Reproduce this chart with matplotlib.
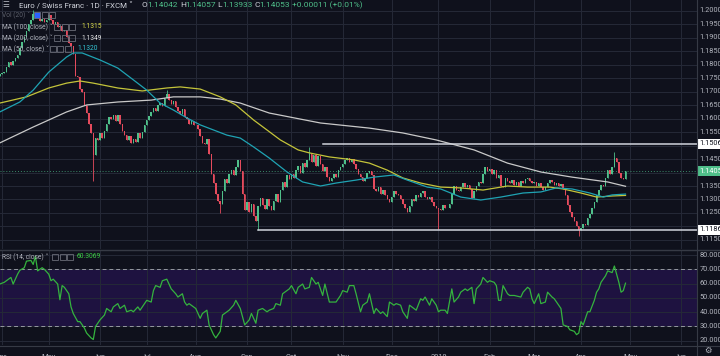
import numpy as np
import pandas as pd
import matplotlib
matplotlib.use("Agg")
import matplotlib.pyplot as plt
import matplotlib.transforms as mtransforms
from matplotlib.patches import Rectangle

plt.rcParams['font.family'] = ['Roboto', 'DejaVu Sans']

# ============================================================
# DATOS  (EUR/CHF diario, FXCM)
# ============================================================

fechas = pd.bdate_range("2018-03-30", "2019-04-29")          # una vela por día hábil
fechas_eje = pd.bdate_range("2018-03-30", "2019-06-28")      # incluye espacio a la derecha

apertura_inicial = 1.1760

c_mar18 = [1.1765]
c_abr18 = [1.1768, 1.1775, 1.1792, 1.1810, 1.1800, 1.1815, 1.1825, 1.1838, 1.1862, 1.1885, 1.1902,
           1.1925, 1.1950, 1.1968, 1.1990, 1.1975, 1.1980, 1.1962, 1.1970, 1.1960, 1.1968]
c_may18 = [1.1985, 1.1965, 1.1950, 1.1958, 1.1940, 1.1945, 1.1925, 1.1930, 1.1905, 1.1880, 1.1870,
           1.1840, 1.1760, 1.1755, 1.1710, 1.1700, 1.1650, 1.1620, 1.1580, 1.1545, 1.1465, 1.1530, 1.1520]
c_jun18 = [1.1545, 1.1530, 1.1555, 1.1580, 1.1605, 1.1598, 1.1615, 1.1590, 1.1612, 1.1580, 1.1555,
           1.1540, 1.1520, 1.1535, 1.1508, 1.1525, 1.1515, 1.1545, 1.1530, 1.1550, 1.1575]
c_jul18 = [1.1595, 1.1610, 1.1625, 1.1640, 1.1630, 1.1650, 1.1660, 1.1648, 1.1675, 1.1690, 1.1670,
           1.1655, 1.1665, 1.1642, 1.1630, 1.1618, 1.1635, 1.1605, 1.1600, 1.1580, 1.1590, 1.1575]
c_ago18 = [1.1578, 1.1560, 1.1535, 1.1510, 1.1505, 1.1525, 1.1470, 1.1395, 1.1360, 1.1320, 1.1295,
           1.1285, 1.1330, 1.1375, 1.1360, 1.1395, 1.1410, 1.1390, 1.1420, 1.1445, 1.1405, 1.1320, 1.1260]
c_sep18 = [1.1290, 1.1255, 1.1285, 1.1240, 1.1220, 1.1275, 1.1305, 1.1280, 1.1265, 1.1300, 1.1275,
           1.1260, 1.1295, 1.1320, 1.1290, 1.1335, 1.1365, 1.1345, 1.1390, 1.1375]
c_oct18 = [1.1395, 1.1380, 1.1410, 1.1425, 1.1400, 1.1435, 1.1420, 1.1445, 1.1470, 1.1440, 1.1465,
           1.1425, 1.1460, 1.1430, 1.1405, 1.1420, 1.1385, 1.1370, 1.1380, 1.1395, 1.1385, 1.1410, 1.1420]
c_nov18 = [1.1430, 1.1445, 1.1455, 1.1440, 1.1450, 1.1430, 1.1415, 1.1395, 1.1385, 1.1370, 1.1380,
           1.1398, 1.1405, 1.1390, 1.1340, 1.1330, 1.1345, 1.1320, 1.1335, 1.1315, 1.1300, 1.1290]
c_dic18 = [1.1310, 1.1330, 1.1322, 1.1315, 1.1300, 1.1285, 1.1270, 1.1255, 1.1275, 1.1300, 1.1295,
           1.1315, 1.1308, 1.1325, 1.1330, 1.1310, 1.1300, 1.1310, 1.1290, 1.1275, 1.1270]
c_ene19 = [1.1265, 1.1262, 1.1280, 1.1270, 1.1268, 1.1285, 1.1320, 1.1350, 1.1335, 1.1330, 1.1345,
           1.1360, 1.1348, 1.1355, 1.1340, 1.1305, 1.1330, 1.1350, 1.1365, 1.1360, 1.1395, 1.1420, 1.1405]
c_feb19 = [1.1415, 1.1395, 1.1410, 1.1380, 1.1390, 1.1350, 1.1345, 1.1380, 1.1370, 1.1360, 1.1372,
           1.1355, 1.1365, 1.1350, 1.1368, 1.1360, 1.1375, 1.1380, 1.1370, 1.1362]
c_mar19 = [1.1365, 1.1350, 1.1360, 1.1345, 1.1335, 1.1345, 1.1360, 1.1372, 1.1365, 1.1355, 1.1362,
           1.1350, 1.1358, 1.1340, 1.1315, 1.1280, 1.1255, 1.1235, 1.1220, 1.1200, 1.1185]
c_abr19 = [1.1195, 1.1210, 1.1205, 1.1230, 1.1245, 1.1270, 1.1290, 1.1315, 1.1335, 1.1355, 1.1350,
           1.1380, 1.1410, 1.1395, 1.1420, 1.1455, 1.1440, 1.1400, 1.1380, 1.1375, 1.1405]

# mechas largas visibles (barra: precio)
mecha_alta = {15: 1.2005, 75: 1.1705, 139: 1.1493, 276: 1.1475}
mecha_baja = {42: 1.1370, 99: 1.1248, 116: 1.1187, 197: 1.1192, 260: 1.1165}

# medias móviles (barra, precio)
ma50_barra = [0, 9, 15, 22, 30, 33, 37, 45, 53, 60, 66, 72, 78, 84, 90, 96, 102, 108, 114, 121, 129,
              136, 144, 151, 160, 168, 177, 183, 192, 198, 207, 216, 225, 235, 243, 250, 257, 265, 271, 275, 281]
ma50_valor = [1.1625, 1.1662, 1.1706, 1.1773, 1.1829, 1.1844, 1.1844, 1.1818, 1.1788, 1.1744, 1.1706,
              1.1658, 1.1632, 1.1603, 1.1577, 1.1558, 1.1539, 1.1528, 1.1495, 1.1454, 1.1402, 1.1365,
              1.1350, 1.1361, 1.1372, 1.1383, 1.1391, 1.1372, 1.1346, 1.1339, 1.1309, 1.1298, 1.1309,
              1.1324, 1.1328, 1.1343, 1.1339, 1.1324, 1.1309, 1.1317, 1.1320]

ma100_barra = [0, 12, 22, 30, 36, 42, 53, 64, 75, 81, 90, 99, 106, 114, 126, 134, 139, 148, 159, 166,
               174, 181, 189, 198, 207, 217, 228, 237, 247, 253, 261, 268, 275, 281]
ma100_valor = [1.1658, 1.1681, 1.1714, 1.1732, 1.1740, 1.1732, 1.1714, 1.1703, 1.1714, 1.1718, 1.1710,
               1.1681, 1.1651, 1.1595, 1.1521, 1.1484, 1.1473, 1.1458, 1.1447, 1.1435, 1.1409, 1.1380,
               1.1361, 1.1346, 1.1343, 1.1335, 1.1350, 1.1346, 1.1346, 1.1339, 1.1324, 1.1309, 1.1313, 1.1315]

ma200_barra = [0, 15, 30, 39, 53, 68, 78, 90, 99, 108, 121, 144, 166, 181, 196, 213, 228, 243, 257, 273, 281]
ma200_valor = [1.1510, 1.1569, 1.1625, 1.1651, 1.1662, 1.1669, 1.1681, 1.1681, 1.1673, 1.1658, 1.1621,
               1.1584, 1.1565, 1.1547, 1.1521, 1.1484, 1.1435, 1.1402, 1.1383, 1.1365, 1.1349]

# RSI(14) (barra, valor)
rsi_barra = [0, 2, 5, 6, 8, 9, 11, 12, 14, 15, 16, 17, 19, 20, 22, 23, 24, 26, 27, 28, 29, 31, 32, 33, 35,
             36, 38, 39, 41, 42, 43, 44, 45, 47, 48, 50, 51, 53, 54, 56, 57, 59, 60, 62, 63, 65, 66, 68, 69,
             70, 72, 73, 75, 76, 77, 79, 80, 82, 83, 84, 85, 87, 88, 90, 91, 93, 94, 96, 97, 99, 100, 102,
             103, 105, 106, 108, 110, 112, 113, 115, 116, 118, 120, 121, 123, 124, 126, 127, 130, 131, 133,
             134, 136, 137, 139, 140, 142, 143, 145, 146, 148, 151, 153, 154, 156, 157, 159, 160, 162, 163,
             165, 166, 168, 169, 171, 172, 174, 175, 177, 178, 180, 181, 183, 184, 186, 187, 189, 190, 191,
             193, 194, 196, 197, 198, 200, 201, 203, 204, 206, 207, 209, 210, 212, 213, 214, 216, 217, 219,
             220, 222, 223, 224, 225, 226, 228, 229, 231, 234, 235, 237, 238, 239, 240, 242, 243, 245, 246,
             248, 249, 252, 253, 255, 256, 258, 259, 260, 261, 262, 264, 265, 267, 268, 269, 270, 272, 273,
             275, 276, 278, 279, 280, 281]
rsi_valor = [59.7, 60.9, 64.3, 59.7, 66.6, 69.3, 71.1, 75.7, 76.2, 73.4, 79.1, 68.9, 71.1, 70.0, 66.6,
             62.0, 63.1, 59.7, 48.7, 58.6, 57.4, 52.9, 43.7, 39.1, 33.4, 33.4, 28.9, 25.4, 22.0, 20.9,
             30.0, 32.3, 34.6, 38.0, 42.6, 40.3, 43.7, 46.0, 42.6, 44.9, 40.3, 41.4, 40.3, 43.7, 41.4,
             46.0, 48.3, 47.1, 55.1, 58.6, 57.4, 62.0, 63.1, 59.7, 56.3, 52.9, 50.6, 52.9, 47.1, 44.9,
             46.0, 43.7, 42.6, 35.7, 39.1, 41.4, 31.1, 24.3, 22.0, 26.6, 38.0, 40.3, 41.4, 44.9, 48.3,
             42.6, 31.1, 34.6, 39.1, 32.3, 41.4, 42.6, 40.3, 41.4, 42.6, 46.0, 44.9, 52.9, 56.3, 58.6,
             52.9, 57.4, 59.7, 56.3, 57.4, 64.3, 59.7, 60.9, 51.7, 59.7, 47.1, 47.1, 51.7, 55.1, 54.0,
             58.6, 58.6, 52.9, 40.3, 44.9, 47.1, 52.9, 39.1, 42.6, 39.1, 40.3, 36.9, 47.1, 44.9, 46.0,
             44.9, 40.3, 35.7, 44.9, 42.6, 41.4, 49.4, 48.3, 50.6, 44.9, 49.4, 44.9, 40.3, 41.4, 41.4,
             39.1, 56.3, 47.1, 50.6, 54.0, 56.3, 55.1, 57.4, 46.0, 56.3, 59.7, 64.3, 60.9, 62.0, 60.9,
             58.6, 48.3, 48.3, 58.6, 52.9, 51.7, 51.7, 50.6, 54.0, 57.4, 56.3, 49.4, 46.0, 52.9, 46.0,
             47.1, 54.0, 50.6, 49.4, 42.6, 31.1, 30.0, 27.7, 26.6, 24.3, 25.4, 33.4, 31.1, 40.3, 40.3,
             48.3, 54.0, 56.3, 60.9, 65.4, 68.9, 67.7, 72.3, 60.9, 54.0, 55.1, 60.3]

resistencia = 1.15060
soporte = 1.11867
ultimo = 1.14053
ma100_ult, ma200_ult, ma50_ult, rsi_ult = 1.1315, 1.1349, 1.1320, 60.3069

# ============================================================
# ESTILO
# ============================================================
W, H = 720, 356
fondo = '#0f111c'
grilla = '#252937'
texto = '#b2b5be'
verde = '#4fbf8a'
rojo = '#e54b5d'

cierres = np.array(c_mar18 + c_abr18 + c_may18 + c_jun18 + c_jul18 + c_ago18 + c_sep18
                   + c_oct18 + c_nov18 + c_dic18 + c_ene19 + c_feb19 + c_mar19 + c_abr19)
aperturas = np.r_[apertura_inicial, cierres[:-1]]
barras = np.arange(len(cierres))

fig = plt.figure(figsize=(W / 100, H / 100), dpi=100, facecolor=fondo)
ax = fig.add_axes([0, 1 - 249 / H, 697 / W, 249 / H], facecolor=fondo)
ax_rsi = fig.add_axes([0, 1 - 345 / H, 697 / W, 95 / H], facecolor=fondo)

for a in (ax, ax_rsi):
    for s in a.spines.values():
        s.set_visible(False)
    a.set_xlim(0.1, 313.1)
    a.tick_params(left=False, right=False, bottom=False, labelleft=False, labelbottom=False)
    a.set_yticks([])

ax.set_ylim(1.11161, 1.20407)
ax_rsi.set_ylim(17.06, 83.5)

# grilla vertical (inicio de mes)
mes = fechas_eje.to_period('M')
inicios = np.flatnonzero(np.r_[True, mes[1:] != mes[:-1]])[1:]
etiquetas = ['2019' if fechas_eje[i].month == 1 else fechas_eje[i].strftime('%b') for i in inicios]
for a in (ax, ax_rsi):
    for i in inicios:
        a.axvline(i, color=grilla, lw=0.7, zorder=0)

# grilla horizontal + etiquetas de precio
trans = mtransforms.blended_transform_factory(ax.transAxes, ax.transData)
precios_eje = np.round(np.arange(1.115, 1.2001, 0.005), 3)
for p in precios_eje:
    ax.axhline(p, color=grilla, lw=0.7, zorder=0)
    if abs(p - resistencia) < 0.002 or abs(p - soporte) < 0.002 or abs(p - ultimo) < 0.002:
        continue
    ax.text(1.004, p, f"{p:.5f}", transform=trans, color=texto, fontsize=5.3,
            va='center', ha='left', clip_on=False)

# velas
sube = cierres >= aperturas
colores = np.where(sube, verde, rojo)
altos = np.maximum(aperturas, cierres)
bajos = np.minimum(aperturas, cierres)
for i, v in mecha_alta.items():
    altos[i] = v
for i, v in mecha_baja.items():
    bajos[i] = v
ax.vlines(barras, bajos, altos, colors=colores, lw=0.6, zorder=3)
cuerpo = np.where(np.abs(cierres - aperturas) < 0.00012, 0.00012, np.abs(cierres - aperturas))
ax.bar(barras, cuerpo, bottom=np.minimum(aperturas, cierres), width=0.66, color=colores, lw=0, zorder=3)

# medias móviles
ax.plot(ma200_barra, ma200_valor, color='#c9c9c9', lw=0.9, zorder=4)
ax.plot(ma100_barra, ma100_valor, color='#c4c43a', lw=0.9, zorder=4)
ax.plot(ma50_barra, ma50_valor, color='#1fa3b3', lw=0.9, zorder=4)

# líneas horizontales dibujadas
ax.plot([145, 400], [resistencia, resistencia], color='#d1d4dc', lw=1.1, zorder=5, clip_on=True)
ax.plot([116, 400], [soporte, soporte], color='#d1d4dc', lw=1.1, zorder=5, clip_on=True)
ax.axhline(ultimo, color=verde, lw=0.7, ls=(0, (1, 2)), alpha=0.7, zorder=2)

for p, fc, tc in [(resistencia, 'white', fondo), (soporte, 'white', fondo), (ultimo, verde, 'white')]:
    ax.text(1.004, p, f"{p:.5f}", transform=trans, color=tc, fontsize=5.3, va='center', ha='left',
            clip_on=False, bbox=dict(facecolor=fc, edgecolor='none', pad=1.2))

# ---- panel RSI ----
ax_rsi.axhspan(30, 70, color='#1e1240', lw=0, zorder=0)
trans_r = mtransforms.blended_transform_factory(ax_rsi.transAxes, ax_rsi.transData)
for r in range(20, 90, 10):
    ax_rsi.axhline(r, color=grilla, lw=0.7, zorder=1)
    ax_rsi.text(1.004, r, f"{r:.4f}", transform=trans_r, color=texto, fontsize=5.3,
                va='center', ha='left', clip_on=False)
for r in (70, 30):
    ax_rsi.axhline(r, color='#9598a1', lw=0.7, ls=(0, (4, 3)), zorder=2)
for i in inicios:
    ax_rsi.axvline(i, color=grilla, lw=0.7, zorder=1)
ax_rsi.plot(rsi_barra, rsi_valor, color='#34b33e', lw=0.9, zorder=4)

ax_rsi.set_xticks(inicios)
ax_rsi.set_xticklabels(etiquetas)
ax_rsi.tick_params(labelbottom=True, bottom=False, labelsize=5.3, labelcolor=texto, pad=3)

# separadores
sep = '#363a45'
fig.add_artist(plt.Line2D([0, 1], [1 - 249.5 / H] * 2, color=sep, lw=1.0, transform=fig.transFigure))
fig.add_artist(plt.Line2D([0, 1], [1 - 345.5 / H] * 2, color=sep, lw=0.8, transform=fig.transFigure))
fig.add_artist(plt.Line2D([697 / W] * 2, [0, 1], color=sep, lw=0.8, transform=fig.transFigure))


# ---- textos de cabecera y leyendas ----
def ft(x, y, s, **kw):
    fig.text(x / W, 1 - y / H, s, va='center', ha='left', **kw)


def cajitas(x0, y0, primera=None):
    for k in range(3):
        fc = primera if (k == 0 and primera) else 'none'
        fig.add_artist(Rectangle(((x0 + k * 7.5) / W, 1 - (y0 + 3) / H), 6 / W, 6 / H,
                                 transform=fig.transFigure, facecolor=fc, edgecolor='#6a6d78', lw=0.6))


ft(2, 5, '☰', color=texto, fontsize=5.5)
ft(19, 5, 'Euro / Swiss Franc · 1D · FXCM ˅', color='#d1d4dc', fontsize=5.7)
for x, letra, num in [(142, 'O', '1.14042'), (180, 'H', '1.14057'), (217, 'L', '1.13933'), (254, 'C', '1.14053')]:
    ft(x, 5, letra, color='#d1d4dc', fontsize=6.0)
    ft(x + 5, 5, num, color=verde, fontsize=6.0)
ft(292, 5, '+0.00011 (+0.01%)', color=verde, fontsize=6.0)

ft(2, 15, 'Vol (20) ˅', color='#5d606b', fontsize=4.8)
cajitas(34, 15, primera='#2962ff')
ft(2, 27, 'MA (100, close) ˅', color=texto, fontsize=4.8)
cajitas(54, 27)
ft(81, 27, f"{ma100_ult:.4f}", color='#e0e04a', fontsize=4.8)
ft(2, 38, 'MA (200, close) ˅', color=texto, fontsize=4.8)
cajitas(54, 38)
ft(81, 38, f"{ma200_ult:.4f}", color='#e6e6e6', fontsize=4.8)
ft(2, 49, 'MA (50, close) ˅', color=texto, fontsize=4.8)
cajitas(50, 49)
ft(77, 49, f"{ma50_ult:.4f}", color='#35c6d6', fontsize=4.8)

ft(2, 257, 'RSI (14, close) ˅', color=texto, fontsize=4.8)
cajitas(52, 257)
ft(77, 257, f"{rsi_ult:.4f}", color='#3ccf45', fontsize=4.8)

ft(704, 351, '⚙', color=texto, fontsize=6)

plt.savefig("out.png", dpi=100, facecolor=fondo)
